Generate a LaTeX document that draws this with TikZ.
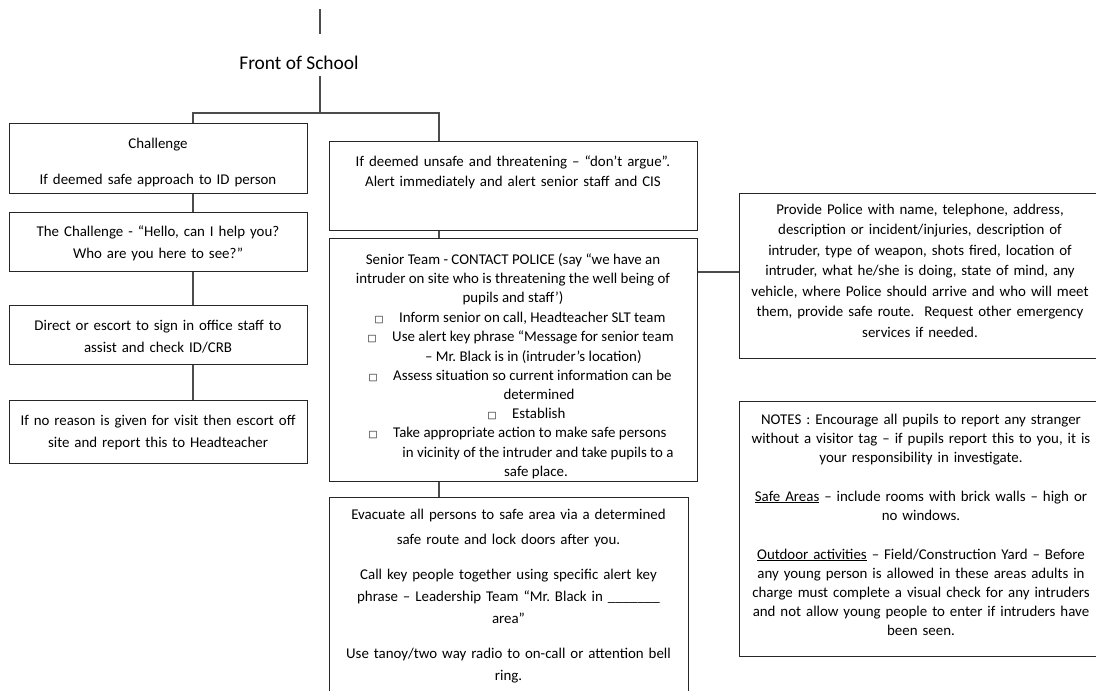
\documentclass[tikz,border=0pt]{standalone}
\usepackage{fontspec}
\setmainfont{Carlito}
\newfontfamily\bulletfont{DejaVu Sans}
\frenchspacing
\begin{document}
\begin{tikzpicture}[x=1pt,y=-1pt,
  box/.style={draw=black!85, line width=1.1pt, inner sep=0pt, anchor=north west},
  conn/.style={draw=black!70, line width=1.1pt},
  para/.style={anchor=base, inner sep=0pt, text width=430pt, align=center, font=\frenchspacing\fontsize{14.9pt}{#1}\selectfont},
  para/.default={21pt},
  sline/.style={inner sep=0pt, font=\frenchspacing\fontsize{14.9pt}{19pt}\selectfont},
  bul/.style={anchor=base, inner sep=0pt, font=\bulletfont\fontsize{9.5pt}{9.5pt}\selectfont},
]
\useasboundingbox (0,0) rectangle (1096,691);
\clip (0,0) rectangle (1096,691);

% title and trunk
\node[anchor=base, inner sep=0pt, font=\fontsize{19.4pt}{23pt}\selectfont] (T) at (299,69) {Front of School};
\coordinate (t0) at (320,9);
\coordinate (t1) at (320,34);
\coordinate (t2) at (320,76);
\coordinate (j) at (320,113);
\coordinate (lc) at (193,113);
\coordinate (rc) at (439,113);
\coordinate (pc) at (718,272);

% boxes
\node[box, minimum width=298pt, minimum height=70pt] (A) at (9,123) {};
\node[box, minimum width=298pt, minimum height=59pt] (B) at (9,212) {};
\node[box, minimum width=298pt, minimum height=59pt] (C) at (9,305) {};
\node[box, minimum width=298pt, minimum height=63pt] (D) at (9,400) {};
\node[box, minimum width=368pt, minimum height=89pt] (E) at (329,141) {};
\node[box, minimum width=368pt, minimum height=243pt] (F) at (329,238) {};
\node[box, minimum width=359pt, minimum height=210pt] (G) at (329,497) {};
\node[box, minimum width=364pt, minimum height=165pt] (H) at (739,193) {};
\node[box, minimum width=364pt, minimum height=255pt] (I) at (739,401) {};

% connectors
\draw[conn] (t0) -- (t1);
\draw[conn] (t2) -- (j);
\draw[conn] (A.north -| lc) -- (lc) -- (rc) -- (E.north -| rc);
\draw[conn] (A.south -| lc) -- (B.north -| lc);
\draw[conn] (B.south -| lc) -- (C.north -| lc);
\draw[conn] (C.south -| lc) -- (D.north -| lc);
\draw[conn] (E.south -| rc) -- (F.north -| rc);
\draw[conn] (F.south -| rc) -- (G.north -| rc);
\draw[conn] (F.east |- pc) -- (H.west |- pc);

% left column texts
\node[para] (tA) at (158,148) {Challenge\\[15pt]If deemed safe approach to ID person};
\node[para=22pt] (tB) at (158,236) {The Challenge - “Hello, can I help you?\\Who are you here to see?”};
\node[para=22pt] (tC) at (158,330) {Direct or escort to sign in office staff to\\assist and check ID/CRB};
\node[para=22pt] (tD) at (158,425) {If no reason is given for visit then escort off\\site and report this to Headteacher};

% centre column texts
\node[para=20pt] (tE) at (513,166) {If deemed unsafe and threatening – “don’t argue”.\\Alert immediately and alert senior staff and CIS};

\node[sline, anchor=base] (f1) at (513,264) {Senior Team - CONTACT POLICE (say “we have an};
\node[sline, anchor=base] (f2) at (513,283.2) {intruder on site who is threatening the well being of};
\node[sline, anchor=base] (f3) at (513,302.4) {pupils and staff’)};
\node[bul] (b1) at (379,322.6) {□};
\node[sline, anchor=base west] (f4) at (399,322.6) {Inform senior on call, Headteacher SLT team};
\node[bul] (b2) at (372,341.8) {□};
\node[sline, anchor=base west] (f5) at (392,341.8) {Use alert key phrase “Message for senior team};
\node[sline, anchor=base west] (f6) at (425,361) {– Mr. Black is in (intruder’s location)};
\node[bul] (b3) at (373,380.2) {□};
\node[sline, anchor=base west] (f7) at (393,380.2) {Assess situation so current information can be};
\node[sline, anchor=base] (f8) at (539,399.4) {determined};
\node[bul] (b4) at (492,418.6) {□};
\node[sline, anchor=base west] (f9) at (512,418.6) {Establish};
\node[bul] (b5) at (373,437.8) {□};
\node[sline, anchor=base west] (f10) at (393,437.8) {Take appropriate action to make safe persons};
\node[sline, anchor=base] (f11) at (538,457) {in vicinity of the intruder and take pupils to a};
\node[sline, anchor=base] (f12) at (536,476.2) {safe place.};

\node[para=22pt] (tG) at (508.5,519) {Evacuate all persons to safe area via a determined\\[3pt]
safe route and lock doors after you.\\[13pt]
Call key people together using specific alert key\\
phrase – Leadership Team “Mr. Black in \_\_\_\_\_\_\_\\
area”\\[13pt]
Use tanoy/two way radio to on-call or attention bell\\
ring.};

% right column texts
\node[para=20.5pt] (tH) at (920,214) {Provide Police with name, telephone, address,\\
description or incident/injuries, description of\\
intruder, type of weapon, shots fired, location of\\
intruder, what he/she is doing, state of mind, any\\
vehicle, where Police should arrive and who will meet\\
them, provide safe route.\ \ Request other emergency\\
services if needed.};

\node[para=19pt] (tI) at (921,424) {NOTES : Encourage all pupils to report any stranger\\
without a visitor tag – if pupils report this to you, it is\\
your responsibility in investigate.\\[20pt]
\underline{Safe Areas} – include rooms with brick walls – high or\\
no windows.\\[20pt]
\underline{Outdoor activities} – Field/Construction Yard – Before\\
any young person is allowed in these areas adults in\\
charge must complete a visual check for any intruders\\
and not allow young people to enter if intruders have\\
been seen.};
\end{tikzpicture}
\end{document}
